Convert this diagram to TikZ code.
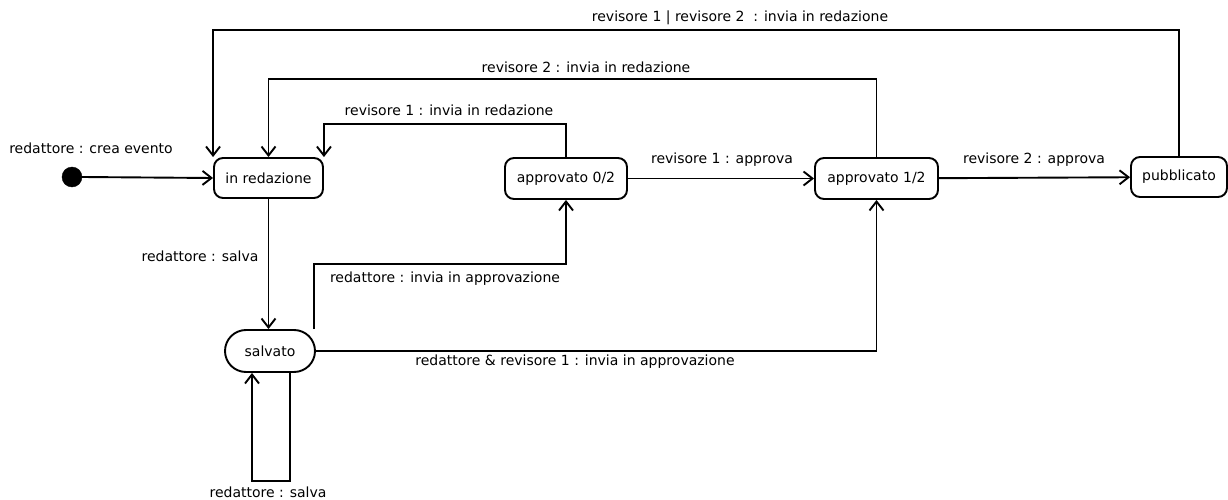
\documentclass[tikz,border=0pt]{standalone}
\usepackage{fontspec}
\setmainfont{DejaVu Sans}
\usetikzlibrary{arrows.meta}

\tikzset{
	statebox/.style={draw, line width=1.9pt, rounded corners=9pt, minimum height=40pt, inner sep=0pt, fill=white},
	trans/.style={line width=1.9pt, -{Straight Barb[length=9pt,width=14pt]}},
	edgelbl/.style={inner sep=0pt}
}

\begin{document}
\begin{tikzpicture}[x=1pt, y=-1pt, font=\fontsize{14pt}{16pt}\selectfont]
	
	\useasboundingbox (0,0) rectangle (1228,500);
	
	\filldraw[black] (72,177) circle (10pt);
	\coordinate (init) at(82,177);
	
	\node[statebox, minimum width=109pt] (ired) at(268.5,178) {in redazione};
	\node[statebox, minimum width=90pt, minimum height=42pt, rounded corners=21pt] (salv) at(270,351) {salvato};
	\node[statebox, minimum width=122pt, minimum height=41pt] (app0) at(566,178.5) {approvato 0/2};
	\node[statebox, minimum width=123pt, minimum height=41pt] (app1) at(876.5,178.5) {approvato 1/2};
	\node[statebox, minimum width=96pt] (pub) at(1179,177) {pubblicato};
	
	\draw[trans] (init) -- (ired.west);
	\draw[trans] (ired.south) -- (ired.south |- salv.north);
	\draw[trans] ([xshift=-2pt]salv.north east) -- ++(0,-65) -| (app0.south);
	\draw[trans] (salv.east) -| (app1.south);
	\draw[trans] ([xshift=20pt]salv.south) -- ++(0,108) -| ([xshift=-18pt]salv.south);
	\draw[trans] (app0) -- (app1);
	\draw[trans] (app1) -- (pub);
	\draw[trans] (app0.north) -- ++(0,-33) -| (ired.north east);
	\draw[trans] (app1.north) -- ++(0,-78) -| (ired.north);
	\draw[trans] (pub.north) -- ++(0,-126) -| (ired.north west);
	
	\node[edgelbl] (lcrea) at(91,148) {redattore : crea evento};
	\node[edgelbl] (lsalva) at(200,256) {redattore : salva};
	\node[edgelbl] (lappr) at(445,279) {redattore : invia in approvazione};
	\node[edgelbl] (lapprb) at(575,362) {redattore \& revisore 1 : invia in approvazione};
	\node[edgelbl] (lsalvb) at(268,492) {redattore : salva};
	\node[edgelbl] (lred1) at(449,110) {revisore 1 : invia in redazione};
	\node[edgelbl] (lred2) at(586,67) {revisore 2 : invia in redazione};
	\node[edgelbl] (lred3) at(740,18) {revisore 1 | revisore 2~ : invia in redazione};
	\node[edgelbl] (lok1) at(722,160) {revisore 1 : approva};
	\node[edgelbl] (lok2) at(1034,160) {revisore 2 : approva};
	
\end{tikzpicture}
\end{document}
